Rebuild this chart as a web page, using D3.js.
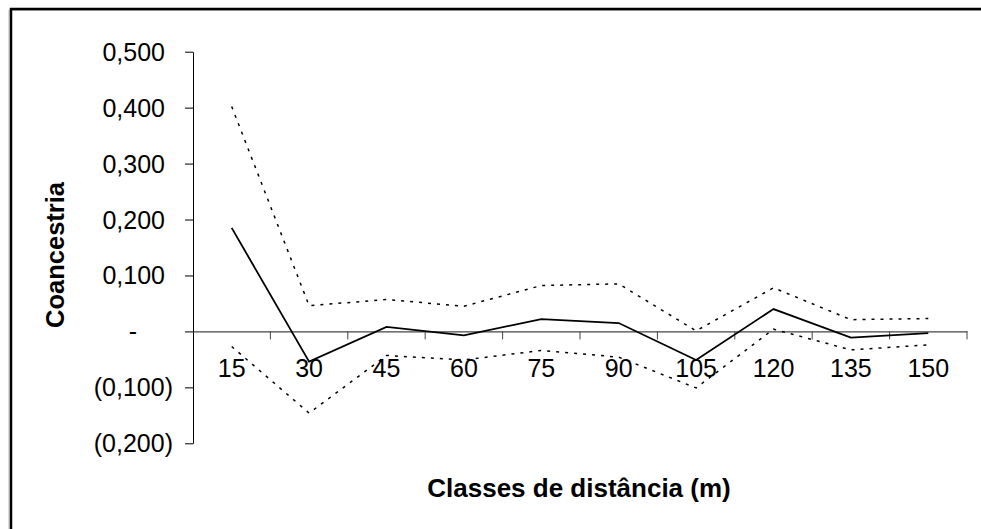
<!DOCTYPE html>
<html>
<head>
<meta charset="utf-8">
<script src="https://cdn.jsdelivr.net/npm/d3@7"></script>
<style>
  body { margin: 0; background: #fff; }
  text { font-family: Arial, "Liberation Sans", sans-serif; fill: #000; }
</style>
</head>
<body>
<div id="canvas-svg"></div>
<script>

// distance classes (m)
var classes = ["15", "30", "45", "60", "75", "90", "105", "120", "135", "150"];
// observed coancestry
var media = [0.185, -0.054, 0.008, -0.007, 0.022, 0.015, -0.051, 0.040, -0.011, -0.003];
// confidence limits
var superior = [0.402, 0.046, 0.057, 0.045, 0.082, 0.085, 0.001, 0.078, 0.021, 0.023];
var inferior = [-0.027, -0.146, -0.043, -0.051, -0.034, -0.046, -0.101, 0.004, -0.033, -0.024];
var yTicks = [-0.2, -0.1, 0, 0.1, 0.2, 0.3, 0.4, 0.5];

var width = 981, height = 529;
var plot = {left: 193, right: 967, top: 51.7, bottom: 443.3};

var svg = d3.select("#canvas-svg").append("svg")
    .attr("width", width)
    .attr("height", height);

// outer frame (right/bottom edges run off the picture)
svg.append("rect")
  .attr("x", 9).attr("y", 10.5)
  .attr("width", 1000).attr("height", 600)
  .style("fill", "none")
  .style("stroke", "#bbb")
  .style("stroke-width", 1);
svg.append("rect")
  .attr("x", 11).attr("y", 9)
  .attr("width", 1000).attr("height", 600)
  .style("fill", "none")
  .style("stroke", "#000")
  .style("stroke-width", 2.5);

var x = d3.scaleBand()
    .domain(classes)
    .range([plot.left, plot.right])
    .padding(0);

var y = d3.scaleLinear()
    .domain([-0.2, 0.5])
    .range([plot.bottom, plot.top]);

var fmt = d3.format(".3f");
var yAxis = d3.axisLeft(y)
    .tickValues(yTicks)
    .tickSize(8)
    .tickSizeOuter(0)
    .tickFormat(function(d) {
      if (Math.abs(d) < 1e-9) return "-";
      var s = fmt(Math.abs(d)).replace(".", ",");
      return d < 0 ? "(" + s + ")" : s;
    });

var gy = svg.append("g")
    .attr("transform", "translate(" + plot.left + ",0)")
    .call(yAxis);
gy.select(".domain").style("stroke", "#000");
gy.selectAll(".tick line").style("stroke", "#000");
gy.selectAll(".tick text")
    .style("font-size", "25px")
    .attr("dy", "0.34em")
    .attr("x", function(d) { return d < 0 ? -20 : (d > 0 ? -28 : -60); })
    .style("text-anchor", function(d) { return Math.abs(d) < 1e-9 ? "middle" : "end"; });

// x axis sits on the zero line, labels centred in each class
var gx = svg.append("g")
    .attr("transform", "translate(0," + y(0) + ")")
    .call(d3.axisBottom(x).tickSize(0).tickSizeOuter(0));
gx.select(".domain").style("stroke", "#444").style("stroke-width", 1.3);
gx.selectAll(".tick text")
    .style("font-size", "25px")
    .attr("y", 46)
    .attr("dy", 0);

// tick marks at class boundaries
var bounds = classes.slice(1).map(function(c) { return x(c); }).concat([plot.right]);
gx.selectAll(".bound")
  .data(bounds)
  .enter().append("line")
    .attr("class", "bound")
    .attr("x1", function(d) { return d; })
    .attr("x2", function(d) { return d; })
    .attr("y1", 0)
    .attr("y2", 8)
    .style("stroke", "#444");

var linha = function(vals) {
  return d3.line()
    .x(function(d, i) { return x(classes[i]) + x.bandwidth() / 2; })
    .y(function(d) { return y(d); })(vals);
};

svg.append("path")
    .attr("d", linha(superior))
    .style("fill", "none")
    .style("stroke", "#000")
    .style("stroke-width", 1.5)
    .style("stroke-dasharray", "3,6");

svg.append("path")
    .attr("d", linha(inferior))
    .style("fill", "none")
    .style("stroke", "#000")
    .style("stroke-width", 1.5)
    .style("stroke-dasharray", "3,6");

svg.append("path")
    .attr("d", linha(media))
    .style("fill", "none")
    .style("stroke", "#000")
    .style("stroke-width", 1.8);

// axis titles
svg.append("text")
  .attr("x", 579)
  .attr("y", 497)
  .style("font-size", "26px")
  .style("font-weight", "bold")
  .style("text-anchor", "middle")
  .text("Classes de distância (m)");

svg.append("text")
  .attr("transform", "translate(64,255) rotate(-90)")
  .style("font-size", "25.5px")
  .style("font-weight", "bold")
  .style("text-anchor", "middle")
  .text("Coancestria");

</script>
</body>
</html>
